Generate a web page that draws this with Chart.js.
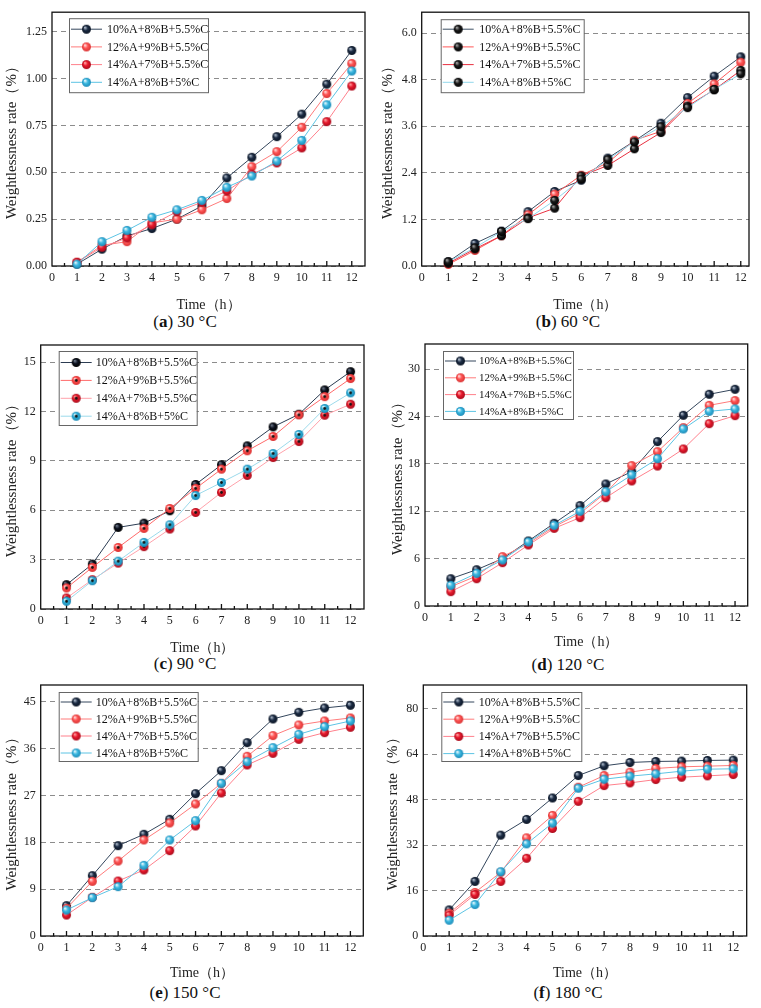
<!DOCTYPE html>
<html>
<head>
<meta charset="utf-8">
<script src="https://cdn.jsdelivr.net/npm/chart.js@4.4.1/dist/chart.umd.min.js"></script>
<style>
  body { margin: 0; background: #fff; width: 761px; height: 1008px; position: relative; overflow: hidden; font-family: "Liberation Serif", serif; }
  canvas { position: absolute; }
  .cap { position: absolute; width: 200px; text-align: center; font-size: 17px; line-height: 20px; color: #111; }
</style>
</head>
<body>
<div class="cap" style="left:85px;top:312px">(<b>a</b>) 30 °C</div>
<div class="cap" style="left:468px;top:312px">(<b>b</b>) 60 °C</div>
<div class="cap" style="left:85px;top:654px">(<b>c</b>) 90 °C</div>
<div class="cap" style="left:468px;top:655px">(<b>d</b>) 120 °C</div>
<div class="cap" style="left:85px;top:983px">(<b>e</b>) 150 °C</div>
<div class="cap" style="left:468px;top:983px">(<b>f</b>) 180 °C</div>
<script>
const hours = [1, 2, 3, 4, 5, 6, 7, 8, 9, 10, 11, 12];
const xTicks = [0, 1, 2, 3, 4, 5, 6, 7, 8, 9, 10, 11, 12];
const seriesNames = ["10%A+8%B+5.5%C", "12%A+9%B+5.5%C", "14%A+7%B+5.5%C", "14%A+8%B+5%C"];
const xTitle = "Time（h）";
const yTitle = "Weightlessness rate（%）";

// 30 °C
const w30a = [0.01, 0.09, 0.16, 0.20, 0.25, 0.32, 0.47, 0.58, 0.69, 0.81, 0.97, 1.15];
const w30b = [0.02, 0.11, 0.13, 0.23, 0.25, 0.30, 0.36, 0.53, 0.61, 0.74, 0.92, 1.08];
const w30c = [0.02, 0.10, 0.15, 0.22, 0.29, 0.34, 0.40, 0.49, 0.55, 0.63, 0.77, 0.96];
const w30d = [0.01, 0.13, 0.19, 0.26, 0.30, 0.35, 0.42, 0.48, 0.56, 0.67, 0.86, 1.04];
const yTicks30 = [0, 0.25, 0.5, 0.75, 1, 1.25];
const yLabels30 = ["0.00", "0.25", "0.50", "0.75", "1.00", "1.25"];

// 60 °C
const w60a = [0.11, 0.58, 0.90, 1.40, 1.92, 2.21, 2.78, 3.22, 3.68, 4.34, 4.89, 5.39];
const w60b = [0.04, 0.40, 0.78, 1.32, 1.85, 2.34, 2.66, 3.24, 3.47, 4.19, 4.69, 5.25];
const w60c = [0.07, 0.44, 0.78, 1.24, 1.49, 2.32, 2.59, 3.02, 3.44, 4.12, 4.54, 5.04];
const w60d = [0.11, 0.47, 0.89, 1.22, 1.69, 2.24, 2.74, 3.20, 3.59, 4.08, 4.55, 4.95];
const yTicks60 = [0, 1.2, 2.4, 3.6, 4.8, 6.0];
const yLabels60 = ["0.0", "1.2", "2.4", "3.6", "4.8", "6.0"];

// 90 °C
const w90a = [1.48, 2.73, 4.96, 5.22, 5.97, 7.57, 8.77, 9.92, 11.07, 11.84, 13.32, 14.43];
const w90b = [1.28, 2.53, 3.74, 4.90, 6.11, 7.33, 8.50, 9.62, 10.49, 11.80, 12.91, 14.01];
const w90c = [0.67, 1.78, 2.79, 3.79, 4.86, 5.87, 7.09, 8.12, 9.21, 10.18, 11.78, 12.45];
const w90d = [0.47, 1.72, 2.91, 4.05, 5.12, 6.90, 7.69, 8.50, 9.45, 10.61, 12.19, 13.14];
const yTicks90 = [0, 3, 6, 9, 12, 15];
const yLabels90 = ["0", "3", "6", "9", "12", "15"];

// 120 °C
const w120a = [3.46, 4.60, 6.00, 8.24, 10.48, 12.72, 15.46, 17.03, 20.83, 24.17, 26.83, 27.46];
const w120b = [2.45, 3.80, 6.25, 7.94, 10.05, 11.74, 14.36, 17.79, 19.56, 22.60, 25.43, 26.03];
const w120c = [1.82, 3.46, 5.49, 7.73, 9.84, 11.20, 13.73, 15.84, 17.74, 19.90, 23.11, 24.12];
const w120d = [2.62, 4.14, 5.83, 8.11, 10.22, 12.00, 14.49, 16.60, 18.67, 22.43, 24.67, 24.97];
const yTicks120 = [0, 6, 12, 18, 24, 30];
const yLabels120 = ["0", "6", "12", "18", "24", "30"];

// 150 °C
const w150a = [5.83, 11.59, 17.35, 19.53, 22.41, 27.34, 31.75, 37.13, 41.68, 42.96, 43.79, 44.30];
const w150b = [5.31, 10.50, 14.40, 18.44, 21.70, 25.35, 29.32, 34.51, 38.48, 40.52, 41.29, 41.87];
const w150c = [4.03, 7.43, 10.56, 12.68, 16.39, 21.13, 27.47, 32.84, 35.08, 37.77, 39.05, 40.08];
const w150d = [4.99, 7.36, 9.48, 13.57, 18.44, 22.15, 29.32, 33.48, 36.17, 38.73, 40.20, 41.29];
const yTicks150 = [0, 9, 18, 27, 36, 45];
const yLabels150 = ["0", "9", "18", "27", "36", "45"];

// 180 °C
const w180a = [9.20, 19.23, 35.52, 41.06, 48.61, 56.52, 59.94, 61.12, 61.47, 61.59, 61.83, 61.95];
const w180b = [8.02, 15.34, 22.42, 34.57, 42.48, 52.39, 56.52, 57.70, 59.00, 59.59, 59.82, 60.06];
const w180c = [7.32, 14.63, 19.23, 27.37, 37.88, 47.43, 52.98, 53.92, 55.10, 55.93, 56.40, 56.87];
const w180d = [5.55, 11.09, 22.65, 32.45, 39.76, 52.04, 55.22, 56.28, 57.11, 58.05, 58.76, 58.88];
const yTicks180 = [0, 16, 32, 48, 64, 80];
const yLabels180 = ["0", "16", "32", "48", "64", "80"];

// glossy ball markers like the Origin symbols
function ball(hi, base, edge, dot) {
  const d = 9;
  const c = document.createElement("canvas");
  c.width = c.height = d + 2;
  const g = c.getContext("2d");
  const r = d / 2, cx = (d + 2) / 2;
  const grad = g.createRadialGradient(cx - r * 0.35, cx - r * 0.4, r * 0.1, cx, cx, r);
  grad.addColorStop(0, hi);
  grad.addColorStop(0.45, base);
  grad.addColorStop(1, edge);
  g.fillStyle = grad;
  g.beginPath();
  g.arc(cx, cx, r, 0, Math.PI * 2);
  g.fill();
  if (dot) {
    g.fillStyle = "#111";
    g.beginPath();
    g.arc(cx, cx, 1.4, 0, Math.PI * 2);
    g.fill();
  }
  return c;
}

const navyBall = ball("#aab6c6", "#1c2c44", "#0a1424");
const salmonBall = ball("#ffd8d8", "#ff5454", "#d83434");
const redBall = ball("#ff9c9c", "#e8182c", "#a80c1c");
const cyanBall = ball("#e2f6fc", "#3cb8e0", "#1a8ab8");
const blackBall = ball("#a0a0a0", "#1a1a1a", "#000");
const blackBall2 = ball("#6a7484", "#0c1220", "#000");
const salmonDot = ball("#ffd0d0", "#ff4a4a", "#d83030", true);
const redDot = ball("#ff9090", "#e51a2a", "#a80c1c", true);
const cyanDot = ball("#d8f2fa", "#30b0d8", "#1a88b4", true);

const looks = {
  std: { lines: ["#34465c", "#ff7b7b", "#ff808c", "#5cc4e4"], balls: [navyBall, salmonBall, redBall, cyanBall] },
  b: { lines: ["#3e5064", "#ff5858", "#e83040", "#92d8ec"], balls: [navyBall, salmonBall, blackBall, blackBall],
       legendBalls: [blackBall, blackBall, blackBall, blackBall] },
  c: { lines: ["#2c3c52", "#ff6a6a", "#ffa2ab", "#9cdaeb"], balls: [blackBall2, salmonDot, redDot, cyanDot] }
};

const panels = [
  { left: 0, top: 0, area: [52, 5, 365, 266], yTitleX: 12, xTitleY: 305, xMax: 12.53, yMax: 1.354,
    yTicks: yTicks30, yLabels: yLabels30, data: [w30a, w30b, w30c, w30d], look: "std",
    legend: { dx: 17, dy: 6, w: 139, h: 74, first: 11, row: 17.7, textX: 38, size: 12 } },
  { left: 380, top: 0, area: [421.7, 5, 749, 266], yTitleX: 388, xTitleY: 305, xMax: 12.31, yMax: 6.54,
    yTicks: yTicks60, yLabels: yLabels60, data: [w60a, w60b, w60c, w60d], look: "b",
    legend: { dx: 19, dy: 7, w: 143, h: 73, first: 10, row: 17.7, textX: 38.5, size: 12 } },
  { left: 0, top: 330, area: [40.7, 345, 364, 609], yTitleX: 12, xTitleY: 648, xMax: 12.52, yMax: 16.05,
    yTicks: yTicks90, yLabels: yLabels90, data: [w90a, w90b, w90c, w90d], look: "c",
    legend: { dx: 18, dy: 6, w: 138, h: 74, first: 11.5, row: 17.9, textX: 37, size: 12 } },
  { left: 380, top: 330, area: [425, 344, 747.7, 606], yTitleX: 398, xTitleY: 642, xMax: 12.49, yMax: 33.2,
    yTicks: yTicks120, yLabels: yLabels120, data: [w120a, w120b, w120c, w120d], look: "std",
    legend: { dx: 18, dy: 7, w: 130, h: 68, first: 10, row: 16.8, textX: 36, size: 11 } },
  { left: 0, top: 670, area: [40.7, 685, 363.3, 936], yTitleX: 12, xTitleY: 973, xMax: 12.5, yMax: 48.2,
    yTicks: yTicks150, yLabels: yLabels150, data: [w150a, w150b, w150c, w150d], look: "std",
    legend: { dx: 18, dy: 7, w: 139, h: 69, first: 10, row: 17, textX: 37, size: 12 } },
  { left: 380, top: 670, area: [423.3, 685, 746.7, 936], yTitleX: 393, xTitleY: 973, xMax: 12.52, yMax: 88.4,
    yTicks: yTicks180, yLabels: yLabels180, data: [w180a, w180b, w180c, w180d], look: "std",
    legend: { dx: 18, dy: 7, w: 140, h: 69, first: 10, row: 17.2, textX: 37.5, size: 12 } }
];

// plot frame plus inward x ticks (drawn under the markers)
const frame = {
  id: "frame",
  beforeDatasetsDraw(chart) {
    const { ctx, chartArea: a, scales: { x } } = chart;
    ctx.save();
    ctx.strokeStyle = "#111";
    ctx.lineWidth = 1.3;
    ctx.beginPath();
    for (let v = 0.5; v <= 12; v += 0.5) {
      const px = x.getPixelForValue(v);
      ctx.moveTo(px, a.bottom);
      ctx.lineTo(px, a.bottom - (v % 1 === 0 ? 5 : 3));
    }
    ctx.stroke();
    ctx.strokeRect(a.left, a.top, a.right - a.left, a.bottom - a.top);
    ctx.restore();
  }
};

// Origin style legend box: line + marker + label
const boxLegend = {
  id: "boxLegend",
  afterDatasetsDraw(chart, args, o) {
    const { ctx, chartArea: a } = chart;
    const x0 = a.left + o.dx, y0 = a.top + o.dy;
    ctx.save();
    ctx.fillStyle = "#fff";
    ctx.fillRect(x0, y0, o.w, o.h);
    ctx.strokeStyle = "#666";
    ctx.lineWidth = 1;
    ctx.strokeRect(x0 + 0.5, y0 + 0.5, o.w, o.h);
    ctx.font = o.size + 'px "Liberation Serif"';
    ctx.textBaseline = "middle";
    chart.data.datasets.forEach((ds, i) => {
      const y = y0 + o.first + i * o.row;
      ctx.strokeStyle = ds.borderColor;
      ctx.lineWidth = 1;
      ctx.beginPath();
      ctx.moveTo(x0 + 2, y);
      ctx.lineTo(x0 + 33, y);
      ctx.stroke();
      const img = ds.legendBall || ds.pointStyle;
      ctx.drawImage(img, x0 + 17.5 - img.width / 2, y - img.height / 2);
      ctx.fillStyle = "#111";
      ctx.fillText(ds.label, x0 + o.textX, y + 0.5);
    });
    ctx.restore();
  }
};

const tickFont = { family: "Liberation Serif", size: 12 };

panels.forEach(p => {
  const [l, t, r, b] = p.area;
  const W = p.left === 0 ? 380 : 381;
  const H = Math.round(p.xTitleY - p.top + 10);
  const cv = document.createElement("canvas");
  cv.width = W;
  cv.height = H;
  cv.style.left = p.left + "px";
  cv.style.top = p.top + "px";
  document.body.appendChild(cv);

  const lhx = 14 * 1.2, lhy = 15 * 1.2;
  const padLeft = p.yTitleX - p.left - lhy / 2;
  const yW = l - p.left - padLeft;
  const xH = p.top + H - b;
  const xTitlePad = p.top + H - p.xTitleY - lhx / 2;
  const look = looks[p.look];

  new Chart(cv, {
    type: "line",
    data: {
      datasets: p.data.map((vals, i) => ({
        label: seriesNames[i],
        data: hours.map((h, k) => ({ x: h, y: vals[k] })),
        borderColor: look.lines[i],
        borderWidth: 1,
        pointStyle: look.balls[i],
        legendBall: look.legendBalls ? look.legendBalls[i] : null,
        pointRadius: 5,
        tension: 0,
        clip: false,
        order: 3 - i
      }))
    },
    options: {
      responsive: false,
      animation: false,
      devicePixelRatio: 1,
      layout: { padding: { left: padLeft, top: t - p.top, right: p.left + W - r, bottom: 0 } },
      plugins: {
        legend: { display: false },
        tooltip: { enabled: false },
        boxLegend: p.legend
      },
      scales: {
        x: {
          type: "linear",
          min: 0,
          max: p.xMax,
          afterBuildTicks: s => { s.ticks = xTicks.map(v => ({ value: v })); },
          afterFit: s => { s.height = xH; },
          grid: { display: false, drawTicks: false },
          border: { display: false },
          ticks: { font: tickFont, color: "#222", padding: 5, maxRotation: 0, callback: v => String(v) },
          title: { display: true, text: xTitle, color: "#222", font: { family: "Liberation Serif", size: 14 },
                   padding: { top: 0, bottom: xTitlePad } }
        },
        y: {
          type: "linear",
          min: 0,
          max: p.yMax,
          afterBuildTicks: s => { s.ticks = p.yTicks.map(v => ({ value: v })); },
          afterFit: s => { s.width = yW; },
          grid: { color: "#8c8c8c", lineWidth: 1, drawTicks: false },
          border: { display: false, dash: [5, 4] },
          ticks: { font: tickFont, color: "#222", padding: 5, callback: (v, i) => p.yLabels[i] },
          title: { display: true, text: yTitle, color: "#222", font: { family: "Liberation Serif", size: 15 },
                   padding: { top: 0, bottom: 0 } }
        }
      }
    },
    plugins: [frame, boxLegend]
  });
});
</script>
</body>
</html>
